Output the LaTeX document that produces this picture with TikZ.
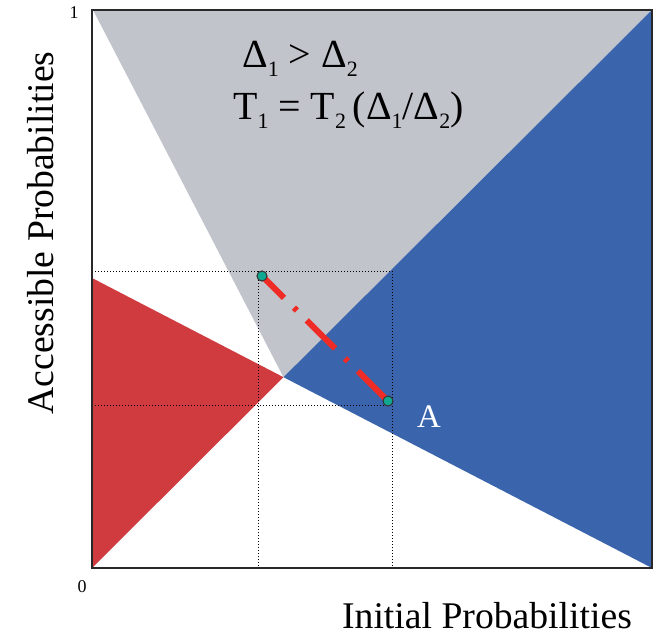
\documentclass[tikz,border=0pt]{standalone}
\usepackage{fontspec}
\setmainfont{Liberation Serif}
\newcommand{\sbs}[1]{\raisebox{-9bp}{\fontsize{22}{22}\selectfont #1}}
\definecolor{regiongray}{RGB}{194,196,204}
\definecolor{regionblue}{RGB}{58,101,173}
\definecolor{regionred}{RGB}{207,59,63}
\definecolor{dotteal}{RGB}{16,168,144}
\definecolor{linered}{RGB}{238,43,36}
\definecolor{framegray}{RGB}{40,40,40}
\tikzset{
  guide/.style={black, line width=0.9bp, dash pattern=on 1.2bp off 1.8bp},
  pointdot/.style={circle, draw=black!80, line width=0.9bp, fill=dotteal, minimum size=10bp, inner sep=0pt},
  axislabel/.style={font=\fontsize{37.8}{40}\selectfont, inner sep=0pt},
  ticklabel/.style={font=\fontsize{18}{18}\selectfont, inner sep=0pt},
  eqtext/.style={font=\fontsize{40}{44}\selectfont, inner sep=0pt, anchor=base west},
}
\begin{document}
\begin{tikzpicture}[x=1bp,y=-1bp]
\useasboundingbox (0,0) rectangle (665,640);
% frame corners
\coordinate (O) at (92,568);
\coordinate (TL) at (92,10);
\coordinate (TR) at (652,10);
\coordinate (BR) at (652,568);
\coordinate (RL) at (92,278);
\coordinate (GT) at (93,10);
\coordinate (X) at (283.5,377.2);
% regions
\fill[regiongray] (GT) -- (TR) -- (X) -- cycle;
\fill[regionblue] (X) -- (TR) -- (BR) -- cycle;
\fill[regionred] (RL) -- (X) -- (O) -- cycle;
% guide lines
\coordinate (H1a) at (92,271);
\coordinate (H1b) at (392,271);
\coordinate (H2a) at (92,405);
\coordinate (H2b) at (392,405);
\coordinate (V1a) at (258,271);
\coordinate (V1b) at (258,568);
\coordinate (V2a) at (392,271);
\coordinate (V2b) at (392,568);
\draw[guide] (H1a) -- (H1b);
\draw[guide] (H2a) -- (H2b);
\draw[guide] (V1a) -- (V1b);
\draw[guide] (V2a) -- (V2b);
% frame
\draw[framegray, line width=2bp] (TL) rectangle (BR);
% points and connector
\node[pointdot] (P1) at (262,276) {};
\node[pointdot] (A) at (388,401) {};
\draw[linered, line width=6bp, dash pattern=on 31bp off 14bp on 4bp off 14bp on 40bp off 14bp on 4bp off 14bp on 40bp off 20bp] (P1.center) -- (A.center);
\node[pointdot] at (P1) {};
\node[pointdot] at (A) {};
% labels
\node[axislabel, white, font=\fontsize{33}{33}\selectfont, anchor=base west] (Alabel) at (417,427) {A};
\node[eqtext] (eq1) at (242,68) {Δ\sbs{1} > Δ\sbs{2}};
\node[eqtext] (eq2) at (233,120) {T\sbs{1} = T\sbs{2}\,(Δ\sbs{1}/Δ\sbs{2})};
\node[ticklabel] (one) at (74,13) {1};
\node[ticklabel] (zero) at (82,587) {0};
\node[axislabel, anchor=base] (xlabel) at (487,628) {Initial Probabilities};
\node[axislabel, anchor=base, rotate=90] (ylabel) at (53,233) {Accessible Probabilities};
\end{tikzpicture}
\end{document}
